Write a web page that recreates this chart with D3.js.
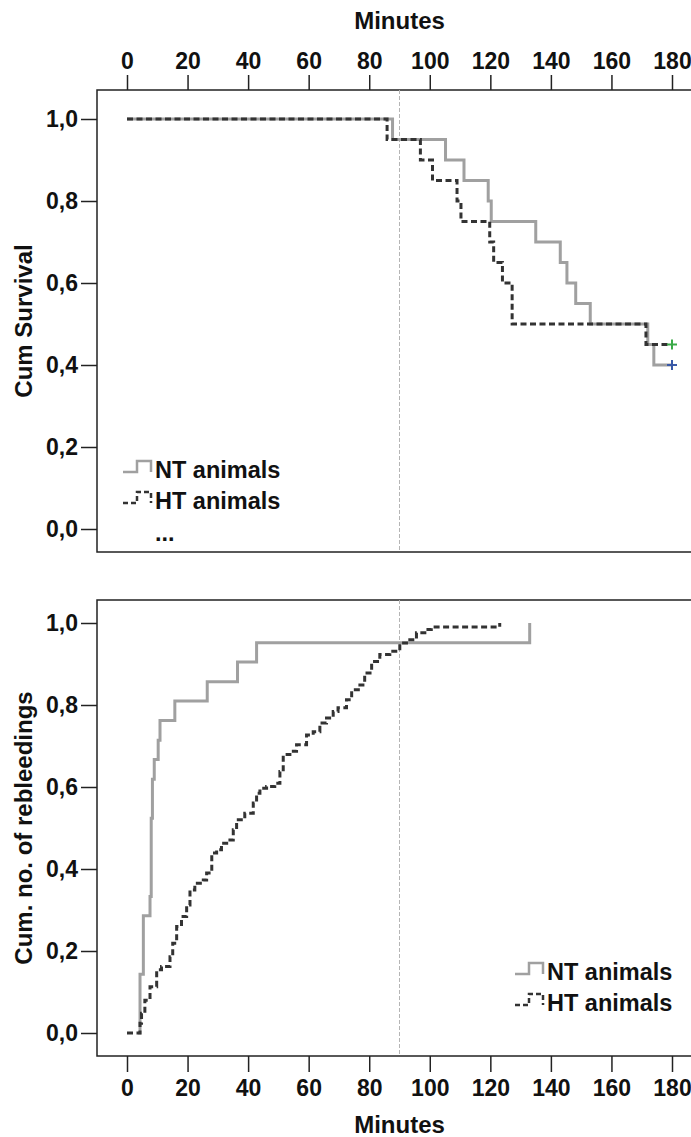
<!DOCTYPE html>
<html><head><meta charset="utf-8">
<script src="https://cdn.jsdelivr.net/npm/d3@7"></script>
<style>
body{margin:0;background:#fff;}
svg text{font-family:"Liberation Sans",Arial,sans-serif;font-weight:bold;fill:#111;}
</style></head>
<body>
<script>
// ---- data ----
const xTicks = [0,20,40,60,80,100,120,140,160,180];
const yTicks = [0,0.2,0.4,0.6,0.8,1.0];
const seriesNames = ["NT animals","HT animals"];
// Top panel: Kaplan-Meier survival [minute, cum survival]
const ntSurvival = [[0,1],[87.7,0.95],[105.2,0.90],[111.3,0.85],[119.3,0.80],[120.3,0.75],[135,0.70],[143.1,0.65],[145.3,0.60],[148.2,0.55],[153,0.50],[172,0.45],[174,0.40],[180,0.40]];
const htSurvival = [[0,1],[85.9,0.95],[96.9,0.90],[100.9,0.85],[109,0.80],[110.3,0.75],[119.8,0.70],[121.1,0.65],[124,0.60],[127.2,0.50],[171.4,0.45],[180,0.45]];
const censored = [{name:"HT animals",t:180,v:0.45,color:"#3aaa48"},{name:"NT animals",t:180,v:0.40,color:"#3a5aa8"}];
// Bottom panel: cumulative rebleedings [minute, cum fraction]
const ntRebleed = [[3.6,0],[4.3,0.143],[5.4,0.286],[7.6,0.333],[8.0,0.524],[8.4,0.619],[9.0,0.667],[10.3,0.714],[10.9,0.762],[15.8,0.810],[26.5,0.857],[36.5,0.905],[42.8,0.952],[133,1.0]];
const htRebleed = [[0,0],[3.7,0],[4.3,0.024],[4.8,0.048],[5.9,0.08],[7.6,0.113],[9.8,0.154],[11.4,0.162],[14.2,0.186],[15.1,0.219],[16.4,0.26],[18,0.284],[19.7,0.312],[20.8,0.349],[22.4,0.365],[25.2,0.373],[26.3,0.39],[28,0.439],[29.6,0.447],[31.2,0.463],[34,0.471],[35.1,0.496],[36.2,0.52],[38.9,0.536],[41.7,0.561],[42.8,0.585],[43.9,0.597],[46.1,0.601],[48.8,0.609],[50.5,0.638],[51.6,0.679],[53.8,0.687],[56,0.703],[59.3,0.727],[61.5,0.735],[63.7,0.756],[65.9,0.768],[68.1,0.784],[69.7,0.793],[72.5,0.813],[74.2,0.837],[76.4,0.849],[78.5,0.878],[80.8,0.906],[83.5,0.923],[86.8,0.931],[90.1,0.951],[92.3,0.959],[95.6,0.976],[99.4,0.984],[100.5,0.990],[123,0.990],[123.1,1.0]];
const refMinute = 90;

// ---- layout ----
const W = 691, H = 1137;
const svg = d3.select("body").append("svg").attr("width",W).attr("height",H);
const x = d3.scaleLinear().domain([0,180]).range([127,672]);
const yTop = d3.scaleLinear().domain([0,1]).range([529,119]);
const yBot = d3.scaleLinear().domain([0,1]).range([1033,623]);
const frameL = 97, frameR = 700;
const top1 = 90, bot1 = 552, top2 = 600, bot2 = 1056;
const NTcol = "#a0a0a0", HTcol = "#333333";
const fmt = d => d.toFixed(1).replace(".",",");
const tickFont = "23px", titleFont = "24px", legFont = "23.5px";

function panel(y, t, b){
  svg.append("rect").attr("x",frameL).attr("y",t).attr("width",frameR-frameL).attr("height",b-t)
    .attr("fill","none").attr("stroke","#222").attr("stroke-width",1.5);
  svg.append("line").attr("x1",x(refMinute)).attr("x2",x(refMinute)).attr("y1",t).attr("y2",b)
    .attr("stroke","#b5b5b5").attr("stroke-width",1).attr("stroke-dasharray","4,2");
  const ay = svg.append("g").attr("transform",`translate(${frameL},0)`)
    .call(d3.axisLeft(y).tickValues(yTicks).tickFormat(fmt).tickSize(16).tickPadding(3));
  ay.select(".domain").remove();
  ay.selectAll(".tick line").attr("stroke","#222").attr("stroke-width",1.5);
  ay.selectAll("text").style("font-size",tickFont).attr("fill","#111");
}
panel(yTop, top1, bot1);
panel(yBot, top2, bot2);

const ax1 = svg.append("g").attr("transform",`translate(0,${top1})`)
  .call(d3.axisTop(x).tickValues(xTicks).tickSize(15).tickPadding(6));
ax1.select(".domain").remove();
ax1.selectAll(".tick line").attr("stroke","#222").attr("stroke-width",1.5);
ax1.selectAll("text").style("font-size",tickFont);
const ax2 = svg.append("g").attr("transform",`translate(0,${bot2})`)
  .call(d3.axisBottom(x).tickValues(xTicks).tickSize(16).tickPadding(8));
ax2.select(".domain").remove();
ax2.selectAll(".tick line").attr("stroke","#222").attr("stroke-width",1.5);
ax2.selectAll("text").style("font-size",tickFont);

svg.append("text").attr("x",x(90)).attr("y",29).attr("text-anchor","middle").style("font-size",titleFont).text("Minutes");
svg.append("text").attr("x",x(90)).attr("y",1133).attr("text-anchor","middle").style("font-size",titleFont).text("Minutes");
svg.append("text").attr("transform",`translate(32,${(top1+bot1)/2}) rotate(-90)`).attr("text-anchor","middle").style("font-size",titleFont).text("Cum Survival");
svg.append("text").attr("transform",`translate(32,${(top2+bot2)/2}) rotate(-90)`).attr("text-anchor","middle").style("font-size",titleFont).text("Cum. no. of rebleedings");

function stepLine(data, y, color, dash){
  const line = d3.line().x(d=>x(d[0])).y(d=>y(d[1])).curve(d3.curveStepAfter);
  svg.append("path").datum(data).attr("d",line).attr("fill","none")
    .attr("stroke",color).attr("stroke-width",3).attr("stroke-dasharray",dash||null);
}
stepLine(ntSurvival, yTop, NTcol);
stepLine(htSurvival, yTop, HTcol, "6,3.5");
stepLine(ntRebleed, yBot, NTcol);
stepLine(htRebleed, yBot, HTcol, "6,3.5");

censored.forEach(c=>{
  const cx = x(c.t), cy = yTop(c.v);
  svg.append("path").attr("d",`M${cx-5},${cy}H${cx+5}M${cx},${cy-5}V${cy+5}`)
    .attr("stroke",c.color).attr("stroke-width",2);
});

function legend(x0, y0, tx){
  seriesNames.forEach((n,i)=>{
    const yy = y0 + i*31;
    svg.append("path").attr("d",`M${x0},${yy+2}H${x0+14}V${yy-9}H${x0+28}V${yy+2}`)
      .attr("fill","none").attr("stroke",i===0?NTcol:HTcol).attr("stroke-width",2.5)
      .attr("stroke-dasharray",i===0?null:"5,3");
    svg.append("text").attr("x",tx).attr("y",yy+8).style("font-size",legFont).text(n);
  });
}
legend(123, 470, 155);
legend(515, 972, 547);
svg.append("text").attr("x",155).attr("y",541).style("font-size",legFont).text("...");
</script>
</body></html>
